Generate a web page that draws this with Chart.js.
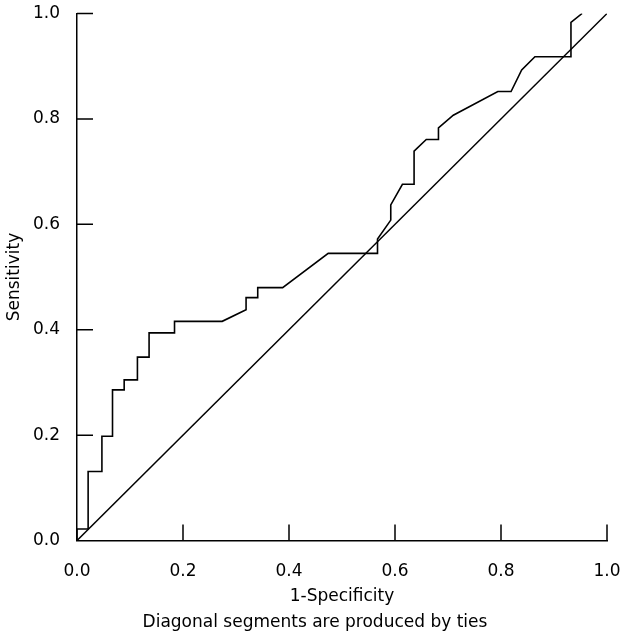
<!DOCTYPE html>
<html>
<head>
<meta charset="utf-8">
<script src="https://cdn.jsdelivr.net/npm/chart.js@4/dist/chart.umd.min.js"></script>
<style>
html,body{margin:0;padding:0;background:#fff;}
#c{display:block;}
</style>
</head>
<body>
<canvas id="c" width="630" height="641"></canvas>
<script>
// ROC curve points
const specComplement = [0, 0, 0.021, 0.021, 0.047, 0.047, 0.067, 0.067, 0.089, 0.089, 0.114, 0.114, 0.136, 0.136, 0.184, 0.184, 0.274, 0.319, 0.319, 0.341, 0.341, 0.388, 0.474, 0.567, 0.567, 0.592, 0.592, 0.614, 0.636, 0.636, 0.659, 0.682, 0.682, 0.710, 0.794, 0.819, 0.839, 0.864, 0.932, 0.932, 0.953];
const sensitivity    = [0, 0.022, 0.022, 0.131, 0.131, 0.198, 0.198, 0.286, 0.286, 0.305, 0.305, 0.348, 0.348, 0.394, 0.394, 0.416, 0.416, 0.438, 0.461, 0.461, 0.480, 0.480, 0.545, 0.545, 0.572, 0.608, 0.637, 0.676, 0.676, 0.739, 0.761, 0.761, 0.783, 0.807, 0.852, 0.852, 0.893, 0.918, 0.918, 0.983, 1.0];
const refX = [0, 1];
const refY = [0, 1];
const tickValues = [0, 0.2, 0.4, 0.6, 0.8, 1.0];
const xTitle = '1-Specificity';
const yTitle = 'Sensitivity';
const subtitleText = 'Diagonal segments are produced by ties';

const FONT = 'DejaVu Sans';
const FS = 17;
const rocData = specComplement.map((x, i) => ({x: x, y: sensitivity[i]}));
const refData = refX.map((x, i) => ({x: x, y: refY[i]}));

function setPad(scale, t, r, b, l) {
  scale.paddingTop = t; scale.paddingRight = r;
  scale.paddingBottom = b; scale.paddingLeft = l;
}

const inwardTicks = {
  id: 'inwardTicks',
  afterDatasetsDraw(chart) {
    const ctx = chart.ctx;
    const xs = chart.scales.x, ys = chart.scales.y;
    const len = 16;
    ctx.save();
    ctx.strokeStyle = '#000';
    ctx.lineWidth = 1.5;
    ctx.beginPath();
    tickValues.forEach(v => {
      if (v === 0) return;
      const px = xs.getPixelForValue(v);
      ctx.moveTo(px, ys.bottom);
      ctx.lineTo(px, ys.bottom - len);
      const py = ys.getPixelForValue(v);
      ctx.moveTo(xs.left, py);
      ctx.lineTo(xs.left + len, py);
    });
    ctx.stroke();
    ctx.restore();
  }
};

new Chart(document.getElementById('c'), {
  type: 'scatter',
  data: {
    datasets: [
      {data: rocData, showLine: true, borderColor: '#000', borderWidth: 1.6, pointRadius: 0, tension: 0, fill: false},
      {data: refData, showLine: true, borderColor: '#000', borderWidth: 1.4, pointRadius: 0, tension: 0, fill: false}
    ]
  },
  options: {
    responsive: false,
    animation: false,
    events: [],
    layout: {padding: {top: 13.5, right: 0, left: 0, bottom: 0}},
    plugins: {
      legend: {display: false},
      tooltip: {enabled: false},
      subtitle: {
        display: true, position: 'bottom', text: subtitleText, color: '#000',
        font: {family: FONT, size: FS, weight: 'normal'}, padding: {top: 0, bottom: 8}
      }
    },
    scales: {
      x: {
        type: 'linear', min: 0, max: 1,
        afterBuildTicks(scale) { scale.ticks = tickValues.map(v => ({value: v})); },
        afterFit(scale) { scale.height = 72; setPad(scale, 0, 23, 0, 0); },
        ticks: {color: '#000', padding: 21, font: {family: FONT, size: FS}, callback: v => Number(v).toFixed(1), maxRotation: 0},
        grid: {display: false, drawTicks: false},
        border: {display: true, color: '#000', width: 1.5},
        title: {display: true, text: xTitle, color: '#000', font: {family: FONT, size: FS}, padding: {top: 4, bottom: 6}}
      },
      y: {
        type: 'linear', min: 0, max: 1,
        afterBuildTicks(scale) { scale.ticks = tickValues.map(v => ({value: v})); },
        afterFit(scale) { scale.width = 77; setPad(scale, 0, 0, 0, 0); },
        ticks: {color: '#000', padding: 17, font: {family: FONT, size: FS}, callback: v => Number(v).toFixed(1)},
        grid: {display: false, drawTicks: false},
        border: {display: true, color: '#000', width: 1.5},
        title: {display: true, text: yTitle, color: '#000', font: {family: FONT, size: FS}, padding: {top: 4, bottom: 0}}
      }
    }
  },
  plugins: [inwardTicks]
});
</script>
</body>
</html>
